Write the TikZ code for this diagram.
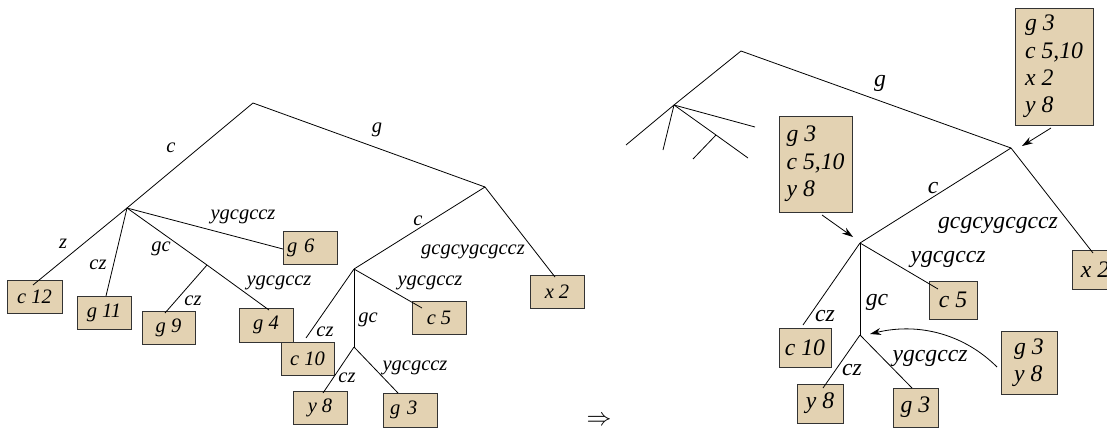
\documentclass[tikz,border=0pt]{standalone}
\usepackage{fontspec}
\setmainfont{Liberation Serif}
\usetikzlibrary{arrows.meta}
\definecolor{boxfill}{RGB}{227,210,178}
\begin{document}
\begin{tikzpicture}[x=1pt,y=-1pt,
  edge/.style={line width=0.8pt},
  lab/.style={font=\fontsize{20.5}{24}\selectfont\itshape, inner sep=0pt},
  labr/.style={font=\fontsize{23.7}{27.3}\selectfont\itshape, inner sep=0pt},
  leaf/.style={draw=black!80, fill=boxfill, line width=1pt, inner sep=0pt,
    minimum width=54pt, minimum height=33pt,
    font=\fontsize{20.5}{24}\selectfont\itshape},
  leafr/.style={leaf, minimum height=39pt,
    font=\fontsize{23.7}{27.3}\selectfont\itshape},
  ptr/.style={line width=0.8pt, -{Stealth[length=11pt,width=7pt]}},
]
\clip (0,0) rectangle (1107,432);

% ---------------- left tree ----------------
\coordinate (r1) at (253,103);
\coordinate (a1) at (127,208);
\coordinate (b1) at (207,265);
\coordinate (r2) at (485,187);
\coordinate (c1) at (354,269);
\coordinate (d1) at (354,347);

\node[leaf, minimum width=55pt] (c12) at (34.5,296.5) {c 12};
\node[leaf] (g11) at (104,312.5) {g 11};
\node[leaf, minimum width=53pt] (g9) at (168.5,327.5) {g 9};
\node[leaf, minimum height=34pt] (g4) at (266,325) {g 4};
\node[leaf, text width=46pt, inner xsep=4pt, align=left] (g6) at (310,247.5) {g 6};
\node[leaf, minimum width=53pt] (c10) at (307.5,358.5) {c 10};
\node[leaf] (c5) at (439,317.5) {c 5};
\node[leaf] (y8) at (320,407.5) {y 8};
\node[leaf, minimum height=34pt, text width=40pt, inner xsep=7pt, align=left] (g3) at (410,410) {g 3};
\node[leaf] (x2) at (557,291.5) {x 2};

\coordinate (c12-t) at (33,285);
\coordinate (g11-t) at (106,296);
\coordinate (g9-t)  at (165,313);
\coordinate (g4-t)  at (269,310);
\coordinate (g6-t)  at (283,249);
\coordinate (c10-t) at (306,338);
\coordinate (c5-t)  at (422,308);
\coordinate (y8-t)  at (323,393);
\coordinate (g3-t)  at (398,393);
\coordinate (x2-t)  at (555,277);

\draw[edge] (r1) -- (a1);
\draw[edge] (r1) -- (r2);
\draw[edge] (a1) -- (c12-t);
\draw[edge] (a1) -- (g11-t);
\draw[edge] (a1) -- (b1) -- (g4-t);
\draw[edge] (b1) -- (g9-t);
\draw[edge] (a1) -- (g6-t);
\draw[edge] (r2) -- (c1);
\draw[edge] (r2) -- (x2-t);
\draw[edge] (c1) -- (c10-t);
\draw[edge] (c1) -- (c5-t);
\draw[edge] (c1) -- (d1);
\draw[edge] (d1) -- (y8-t);
\draw[edge] (d1) -- (g3-t);

\node[lab] (l-c)    at (171,148) {c};
\node[lab] (l-g)    at (377,130) {g};
\node[lab] (l-z)    at (63,244) {z};
\node[lab] (l-cz1)  at (98,265) {cz};
\node[lab] (l-gc1)  at (161,249) {gc};
\node[lab] (l-cz2)  at (193,301) {cz};
\node[lab] (l-y4)   at (279,283) {ygcgccz};
\node[lab] (l-y6)   at (243,217) {ygcgccz};
\node[lab] (l-c2)   at (418,221) {c};
\node[lab] (l-x2)   at (473,252) {gcgcygcgccz};
\node[lab] (l-y5)   at (430,283) {ygcgccz};
\node[lab] (l-cz3)  at (325,332) {cz};
\node[lab] (l-gc2)  at (368,320) {gc};
\node[lab] (l-cz4)  at (347,378) {cz};
\node[lab] (l-y3)   at (415,368) {ygcgccz};

% ---------------- implication ----------------
\node[font=\fontsize{25}{30}\selectfont, inner sep=0pt] (imp) at (599,421) {$\Rightarrow$};

% ---------------- right tree ----------------
\coordinate (R1) at (741,51);
\coordinate (L2) at (674,105);
\coordinate (R3) at (1011,148);
\coordinate (C2) at (860,243);
\coordinate (D2) at (860,335);
\coordinate (f1) at (626,145);
\coordinate (f2) at (663,150);
\coordinate (f3) at (755,127);
\coordinate (fm) at (716,135);
\coordinate (f4) at (748,158);
\coordinate (f5) at (693,159);

\node[leafr, minimum width=78pt, minimum height=117pt, align=left] (S1) at (1054,66.5)
  {g 3\\c 5,10\\x 2\\y 8};
\node[leafr, minimum width=73pt, minimum height=96pt, align=left] (S2) at (815.5,164)
  {g 3\\c 5,10\\y 8};
\node[leafr, minimum width=56pt, minimum height=63pt, align=left] (S3) at (1029,362.5)
  {g 3\\y 8};
\node[leafr, minimum width=48pt, minimum height=38pt] (C5) at (953,300) {c 5};
\node[leafr, minimum width=52pt] (C10) at (805,347.5) {c 10};
\node[leafr, minimum width=46pt] (Y8) at (820,403.5) {y 8};
\node[leafr, minimum width=45pt] (G3) at (915.5,407.5) {g 3};
\node[leafr, minimum width=46pt] (X2) at (1095,269.5) {x 2};

\coordinate (C5-t)  at (938,289);
\coordinate (C10-t) at (803,325);
\coordinate (Y8-t)  at (823,388);
\coordinate (G3-t)  at (912,388);
\coordinate (X2-t)  at (1093,253);

\draw[edge] (R1) -- (L2);
\draw[edge] (L2) -- (f1);
\draw[edge] (L2) -- (f2);
\draw[edge] (L2) -- (f3);
\draw[edge] (L2) -- (fm) -- (f4);
\draw[edge] (fm) -- (f5);
\draw[edge] (R1) -- (R3);
\draw[edge] (R3) -- (C2);
\draw[edge] (R3) -- (X2-t);
\draw[edge] (C2) -- (C10-t);
\draw[edge] (C2) -- (C5-t);
\draw[edge] (C2) -- (D2);
\draw[edge] (D2) -- (Y8-t);
\draw[edge] (D2) -- (G3-t);

\node[labr] (m-g)   at (880,83) {g};
\node[labr] (m-c)   at (933,188) {c};
\node[labr] (m-x2)  at (998,225) {gcgcygcgccz};
\node[labr] (m-y5)  at (948,259) {ygcgccz};
\node[labr] (m-cz1) at (825,316) {cz};
\node[labr] (m-gc)  at (877,302) {gc};
\node[labr] (m-cz2) at (852,370) {cz};
\node[labr] (m-y3)  at (930,358) {ygcgccz};

% pointers from the annotation boxes
\coordinate (S1-o) at (1051,128);
\coordinate (R3-i) at (1022,146);
\coordinate (S2-o) at (822,215);
\coordinate (C2-i) at (853,237);
\coordinate (S3-o) at (997,367);
\coordinate (D2-i) at (870,334);
\draw[ptr] (S1-o) -- (R3-i);
\draw[ptr] (S2-o) -- (C2-i);
\draw[ptr] (S3-o) .. controls (965,335) and (920,322) .. (D2-i);
\end{tikzpicture}
\end{document}
